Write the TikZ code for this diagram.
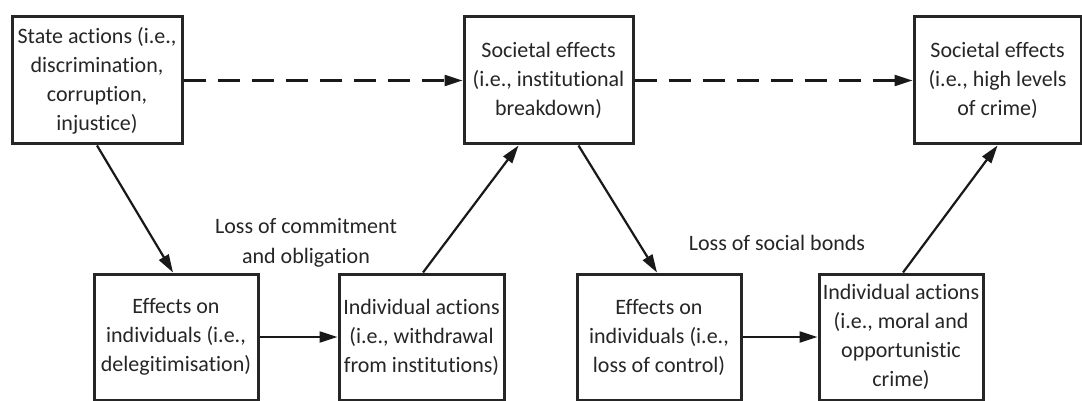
\documentclass[tikz,border=0pt]{standalone}
\usepackage{fontspec}
\setmainfont[Ligatures=NoCommon]{Carlito}
\usetikzlibrary{arrows.meta}
\begin{document}
\begin{tikzpicture}[x=1pt,y=-1pt,
  box/.style={draw=black!85,line width=3pt,rectangle,align=center,inner sep=0pt,
    font=\fontsize{22}{29}\selectfont,text=black!85},
  topbox/.style={box,minimum height=127pt},
  lowbox/.style={box,minimum height=126pt},
  link/.style={line width=2.2pt,draw=black!90,-{Triangle[length=18pt,width=11pt]}},
  weak/.style={link,dash pattern=on 22pt off 12pt},
  note/.style={align=center,font=\fontsize{22}{30}\selectfont,text=black!85}]
\useasboundingbox (0,0) rectangle (1082,401);
\fill[white] (0,0) rectangle (1082,401);
% upper row: state and societal level
\node[topbox,minimum width=170pt] (state) at (97,80.5) {State actions (i.e.,\\discrimination,\\corruption,\\injustice)};
\node[topbox,minimum width=169pt] (inst) at (548.5,80.5) {Societal effects\\(i.e., institutional\\breakdown)};
\node[topbox,minimum width=167pt] (crime) at (997.5,80.5) {Societal effects\\(i.e., high levels\\of crime)};
% lower row: individual level
\node[lowbox,minimum width=164pt] (deleg) at (176,337) {Effects on\\individuals (i.e.,\\delegitimisation)};
\node[lowbox,minimum width=165pt] (withd) at (421.5,337) {Individual actions\\(i.e., withdrawal\\from institutions)};
\node[lowbox,minimum width=164pt] (control) at (659,337) {Effects on\\individuals (i.e.,\\loss of control)};
\node[lowbox,minimum width=164pt] (moral) at (901,337) {Individual actions\\(i.e., moral and\\opportunistic\\crime)};
% mechanism labels
\node[note] (commit) at (306,243) {Loss of commitment\\and obligation};
\node[note] (bonds) at (777,243) {Loss of social bonds};
% direct (dashed) links
\draw[weak] (state.east) -- (inst.west);
\draw[weak] (inst.east) -- (crime.west);
% mediated links
\draw[link] (state.south) -- ([xshift=-3pt]deleg.north);
\draw[link] (deleg.east) -- (withd.west);
\draw[link] ([xshift=1.5pt]withd.north) -- ([xshift=-30pt]inst.south);
\draw[link] ([xshift=30pt]inst.south) -- ([xshift=-2pt]control.north);
\draw[link] (control.east) -- (moral.west);
\draw[link] ([xshift=2pt]moral.north) -- (crime.south);
\end{tikzpicture}
\end{document}
